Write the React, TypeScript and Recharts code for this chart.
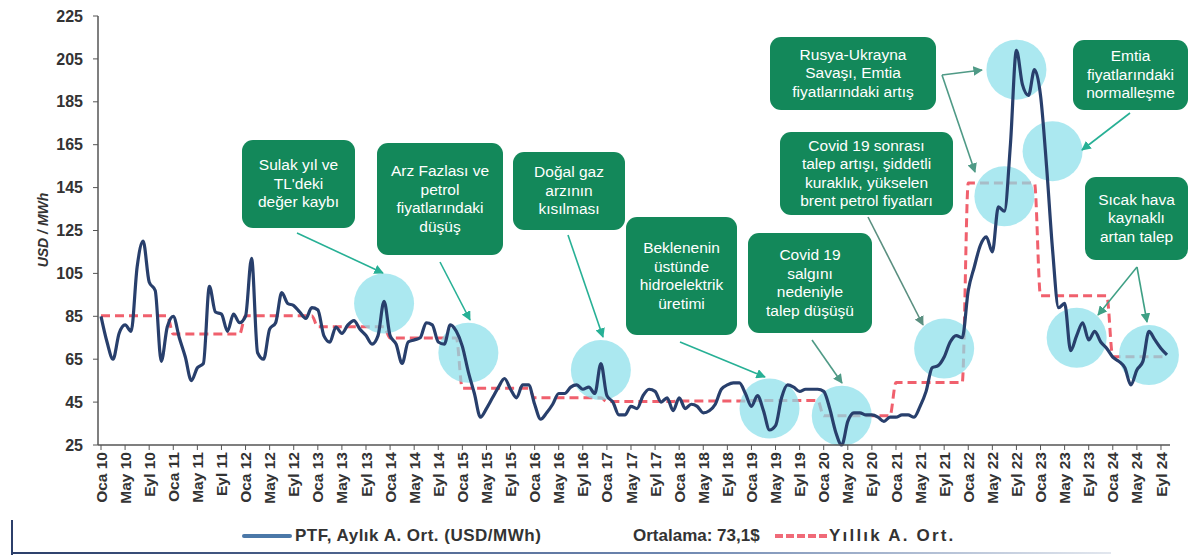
import { LineChart, Line, XAxis, YAxis, ReferenceDot } from "recharts";

const MONTHS = ["Oca", "Şub", "Mar", "Nis", "May", "Haz", "Tem", "Ağu", "Eyl", "Eki", "Kas", "Ara"];
const YEARS = [10, 11, 12, 13, 14, 15, 16, 17, 18, 19, 20, 21, 22, 23, 24];

// PTF aylık ortalama (USD/MWh), yıl yıl
const PTF_2010 = [85, 73, 65, 77, 81, 78, 108, 120, 101, 97, 64, 80];
const PTF_2011 = [85, 75, 66, 55, 61, 63, 99, 87, 86, 78, 86, 82];
const PTF_2012 = [85, 112, 68, 65, 79, 82, 96, 91, 90, 87, 84, 89];
const PTF_2013 = [88, 76, 73, 80, 77, 81, 83, 79, 76, 72, 76, 92];
const PTF_2014 = [76, 72, 63, 73, 74, 75, 82, 81, 73, 72, 81, 78];
const PTF_2015 = [71, 59, 49, 38, 42, 47, 52, 56, 51, 47, 53, 53];
const PTF_2016 = [44, 37, 40, 44, 49, 49, 52, 53, 51, 52, 49, 63];
const PTF_2017 = [48, 45, 39, 39, 43, 42, 48, 51, 50, 45, 47, 41];
const PTF_2018 = [47, 42, 44, 43, 40, 41, 44, 51, 53, 54, 54, 49];
const PTF_2019 = [43, 48, 41, 32, 34, 47, 53, 52, 50, 51, 51, 51];
const PTF_2020 = [50, 42, 31, 25, 36, 40, 40, 39, 39, 38, 36, 38];
const PTF_2021 = [38, 39, 39, 38, 43, 50, 61, 62, 66, 73, 76, 75];
const PTF_2022 = [97, 108, 118, 122, 115, 136, 134, 165, 209, 193, 188, 200];
const PTF_2023 = [188, 155, 116, 89, 91, 69, 76, 82, 74, 78, 73, 70];
const PTF_2024 = [66, 64, 61, 53, 60, 64, 78, 74, 70, 67];

const YEARLY_AVG = [85.3, 76.7, 85.3, 80.1, 74.9, 51.5, 47.0, 45.3, 45.5, 45.8, 38.6, 54.1, 147.1, 94.6, 66.1];

const Y_TICKS = [25, 45, 65, 85, 105, 125, 145, 165, 185, 205, 225];

const PTF = [
  ...PTF_2010, ...PTF_2011, ...PTF_2012, ...PTF_2013, ...PTF_2014,
  ...PTF_2015, ...PTF_2016, ...PTF_2017, ...PTF_2018, ...PTF_2019,
  ...PTF_2020, ...PTF_2021, ...PTF_2022, ...PTF_2023, ...PTF_2024,
];

const data = PTF.map((v, i) => ({
  ay: `${MONTHS[i % 12]} ${YEARS[Math.floor(i / 12)]}`,
  ptf: v,
  yillik: YEARLY_AVG[Math.floor(i / 12)],
}));

// vurgulanan bölgeler (daireler)
const HIGHLIGHTS = [
  { ay: "Ara 13", v: 91 },
  { ay: "Şub 15", v: 68 },
  { ay: "Ara 16", v: 60 },
  { ay: "Nis 19", v: 42 },
  { ay: "Nis 20", v: 38.6 },
  { ay: "Eyl 21", v: 70 },
  { ay: "Eyl 22", v: 200 },
  { ay: "Tem 22", v: 141 },
  { ay: "Mar 23", v: 162 },
  { ay: "Tem 23", v: 75 },
  { ay: "Tem 24", v: 67 },
];

const NOTES = [
  { text: ["Sulak yıl ve", "TL'deki", "değer kaybı"], left: 242, top: 140, w: 113, h: 88 },
  { text: ["Arz Fazlası ve", "petrol", "fiyatlarındaki", "düşüş"], left: 377, top: 143, w: 126, h: 112 },
  { text: ["Doğal gaz", "arzının", "kısılması"], left: 513, top: 152, w: 112, h: 78 },
  { text: ["Beklenenin", "üstünde", "hidroelektrik", "üretimi"], left: 626, top: 217, w: 111, h: 118 },
  { text: ["Covid 19", "salgını", "nedeniyle", "talep düşüşü"], left: 748, top: 233, w: 124, h: 100 },
  { text: ["Covid 19 sonrası", "talep artışı, şiddetli", "kuraklık, yükselen", "brent petrol fiyatları"], left: 780, top: 132, w: 173, h: 83 },
  { text: ["Rusya-Ukrayna", "Savaşı, Emtia", "fiyatlarındaki artış"], left: 770, top: 37, w: 166, h: 73 },
  { text: ["Emtia", "fiyatlarındaki", "normalleşme"], left: 1073, top: 40, w: 115, h: 70 },
  { text: ["Sıcak hava", "kaynaklı", "artan talep"], left: 1085, top: 177, w: 103, h: 83 },
];

const ARROWS = [
  { x1: 297, y1: 233, x2: 383, y2: 273, c: "#27b095" },
  { x1: 440, y1: 262, x2: 470, y2: 320, c: "#27b095" },
  { x1: 568, y1: 235, x2: 603, y2: 337, c: "#27b095" },
  { x1: 680, y1: 342, x2: 765, y2: 377, c: "#27b095" },
  { x1: 812, y1: 340, x2: 842, y2: 383, c: "#4f9a86" },
  { x1: 868, y1: 217, x2: 923, y2: 325, c: "#5a8f80" },
  { x1: 942, y1: 75, x2: 982, y2: 70, c: "#4f9a86" },
  { x1: 942, y1: 75, x2: 975, y2: 172, c: "#4f9a86" },
  { x1: 1130, y1: 113, x2: 1082, y2: 150, c: "#27b095" },
  { x1: 1137, y1: 267, x2: 1098, y2: 315, c: "#3fa085" },
  { x1: 1137, y1: 267, x2: 1147, y2: 322, c: "#3fa085" },
];

const FONT = "'Liberation Sans', Arial, sans-serif";

const XTick = (props: any) => {
  const { x, y, payload } = props;
  return (
    <text
      x={x}
      y={y}
      dy="0.36em"
      transform={`rotate(-90 ${x} ${y})`}
      textAnchor="end"
      fill="#333"
      fontSize={15.5}
      fontWeight="bold"
      fontFamily={FONT}
    >
      {payload.value}
    </text>
  );
};

const legendText = { position: "absolute" as const, top: 526, fontSize: 17, fontWeight: "bold" as const, color: "#333", whiteSpace: "nowrap" as const };

export default function App() {
  return (
    <div style={{ position: "absolute", left: 0, top: 0, width: 1196, height: 556, background: "#fff", fontFamily: FONT }}>
      <LineChart width={1196} height={556} data={data} margin={{ top: 16, right: 26, left: 0, bottom: 41 }}>
        <XAxis
          dataKey="ay"
          interval={3}
          height={70}
          padding={{ left: 3, right: 3 }}
          tick={<XTick />}
          tickSize={5}
          axisLine={{ stroke: "#555", strokeWidth: 1.5 }}
          tickLine={{ stroke: "#555" }}
        />
        <YAxis
          width={98}
          domain={[25, 225]}
          ticks={Y_TICKS}
          tickSize={5}
          tickMargin={10}
          tick={{ fill: "#333", fontSize: 16, fontWeight: "bold", fontFamily: FONT }}
          axisLine={{ stroke: "#555", strokeWidth: 1.5 }}
          tickLine={{ stroke: "#555" }}
        />
        <Line
          type="monotone"
          dataKey="yillik"
          stroke="#f0606d"
          strokeWidth={3}
          strokeDasharray="9 5"
          dot={false}
          zIndex={50}
          isAnimationActive={false}
        />
        {HIGHLIGHTS.map((h, i) => (
          <ReferenceDot key={i} x={h.ay} y={h.v} r={30} fill="#8adfea" fillOpacity={0.72} stroke="none" zIndex={100} />
        ))}
        <Line
          type="monotone"
          dataKey="ptf"
          stroke="#283f6c"
          strokeWidth={3.2}
          dot={false}
          isAnimationActive={false}
        />
      </LineChart>

      {/* eksen başlığı */}
      <div
        style={{
          position: "absolute",
          left: 43,
          top: 230,
          transform: "translate(-50%, -50%) rotate(-90deg)",
          fontSize: 14,
          fontWeight: "bold",
          fontStyle: "italic",
          color: "#333",
          whiteSpace: "nowrap",
        }}
      >
        USD / MWh
      </div>

      {/* oklar */}
      <svg width={1196} height={556} style={{ position: "absolute", left: 0, top: 0, pointerEvents: "none" }}>
        <defs>
          {ARROWS.map((a, i) => (
            <marker key={i} id={`ah${i}`} viewBox="0 0 10 10" refX="9" refY="5" markerWidth="6" markerHeight="6" orient="auto">
              <path d="M0,0 L10,5 L0,10 z" fill={a.c} />
            </marker>
          ))}
        </defs>
        {ARROWS.map((a, i) => (
          <line key={i} x1={a.x1} y1={a.y1} x2={a.x2} y2={a.y2} stroke={a.c} strokeWidth={1.6} markerEnd={`url(#ah${i})`} />
        ))}
      </svg>

      {/* açıklama kutuları */}
      {NOTES.map((n, i) => (
        <div
          key={i}
          style={{
            position: "absolute",
            left: n.left,
            top: n.top,
            width: n.w,
            height: n.h,
            background: "#13885a",
            borderRadius: 11,
            color: "#fff",
            fontSize: 15.5,
            lineHeight: "18.5px",
            display: "flex",
            flexDirection: "column",
            alignItems: "center",
            justifyContent: "center",
            textAlign: "center",
            whiteSpace: "nowrap",
          }}
        >
          {n.text.map((t, j) => (
            <div key={j}>{t}</div>
          ))}
        </div>
      ))}

      {/* gösterge */}
      <div style={{ position: "absolute", left: 242, top: 536, width: 50, height: 4, marginTop: -2, background: "#4b78a8", borderRadius: 2 }} />
      <div style={{ ...legendText, left: 295, letterSpacing: 0.5 }}>PTF, Aylık A. Ort. (USD/MWh)</div>
      <div style={{ ...legendText, left: 633 }}>Ortalama: 73,1$</div>
      <svg width={52} height={8} style={{ position: "absolute", left: 775, top: 532 }}>
        <line x1={0} y1={4} x2={52} y2={4} stroke="#f06a78" strokeWidth={4} strokeDasharray="8 3" />
      </svg>
      <div style={{ ...legendText, left: 829, letterSpacing: 2.2 }}>Yıllık A. Ort.</div>

      {/* alt çerçeve */}
      <div style={{ position: "absolute", left: 11, top: 520, width: 2, height: 35, background: "#2c3f6a" }} />
      <div
        style={{
          position: "absolute",
          left: 11,
          top: 552,
          width: 1100,
          height: 2,
          background: "linear-gradient(to right, #2c3f6a, #6d86b0 60%, rgba(160,175,200,0.3))",
        }}
      />
    </div>
  );
}
